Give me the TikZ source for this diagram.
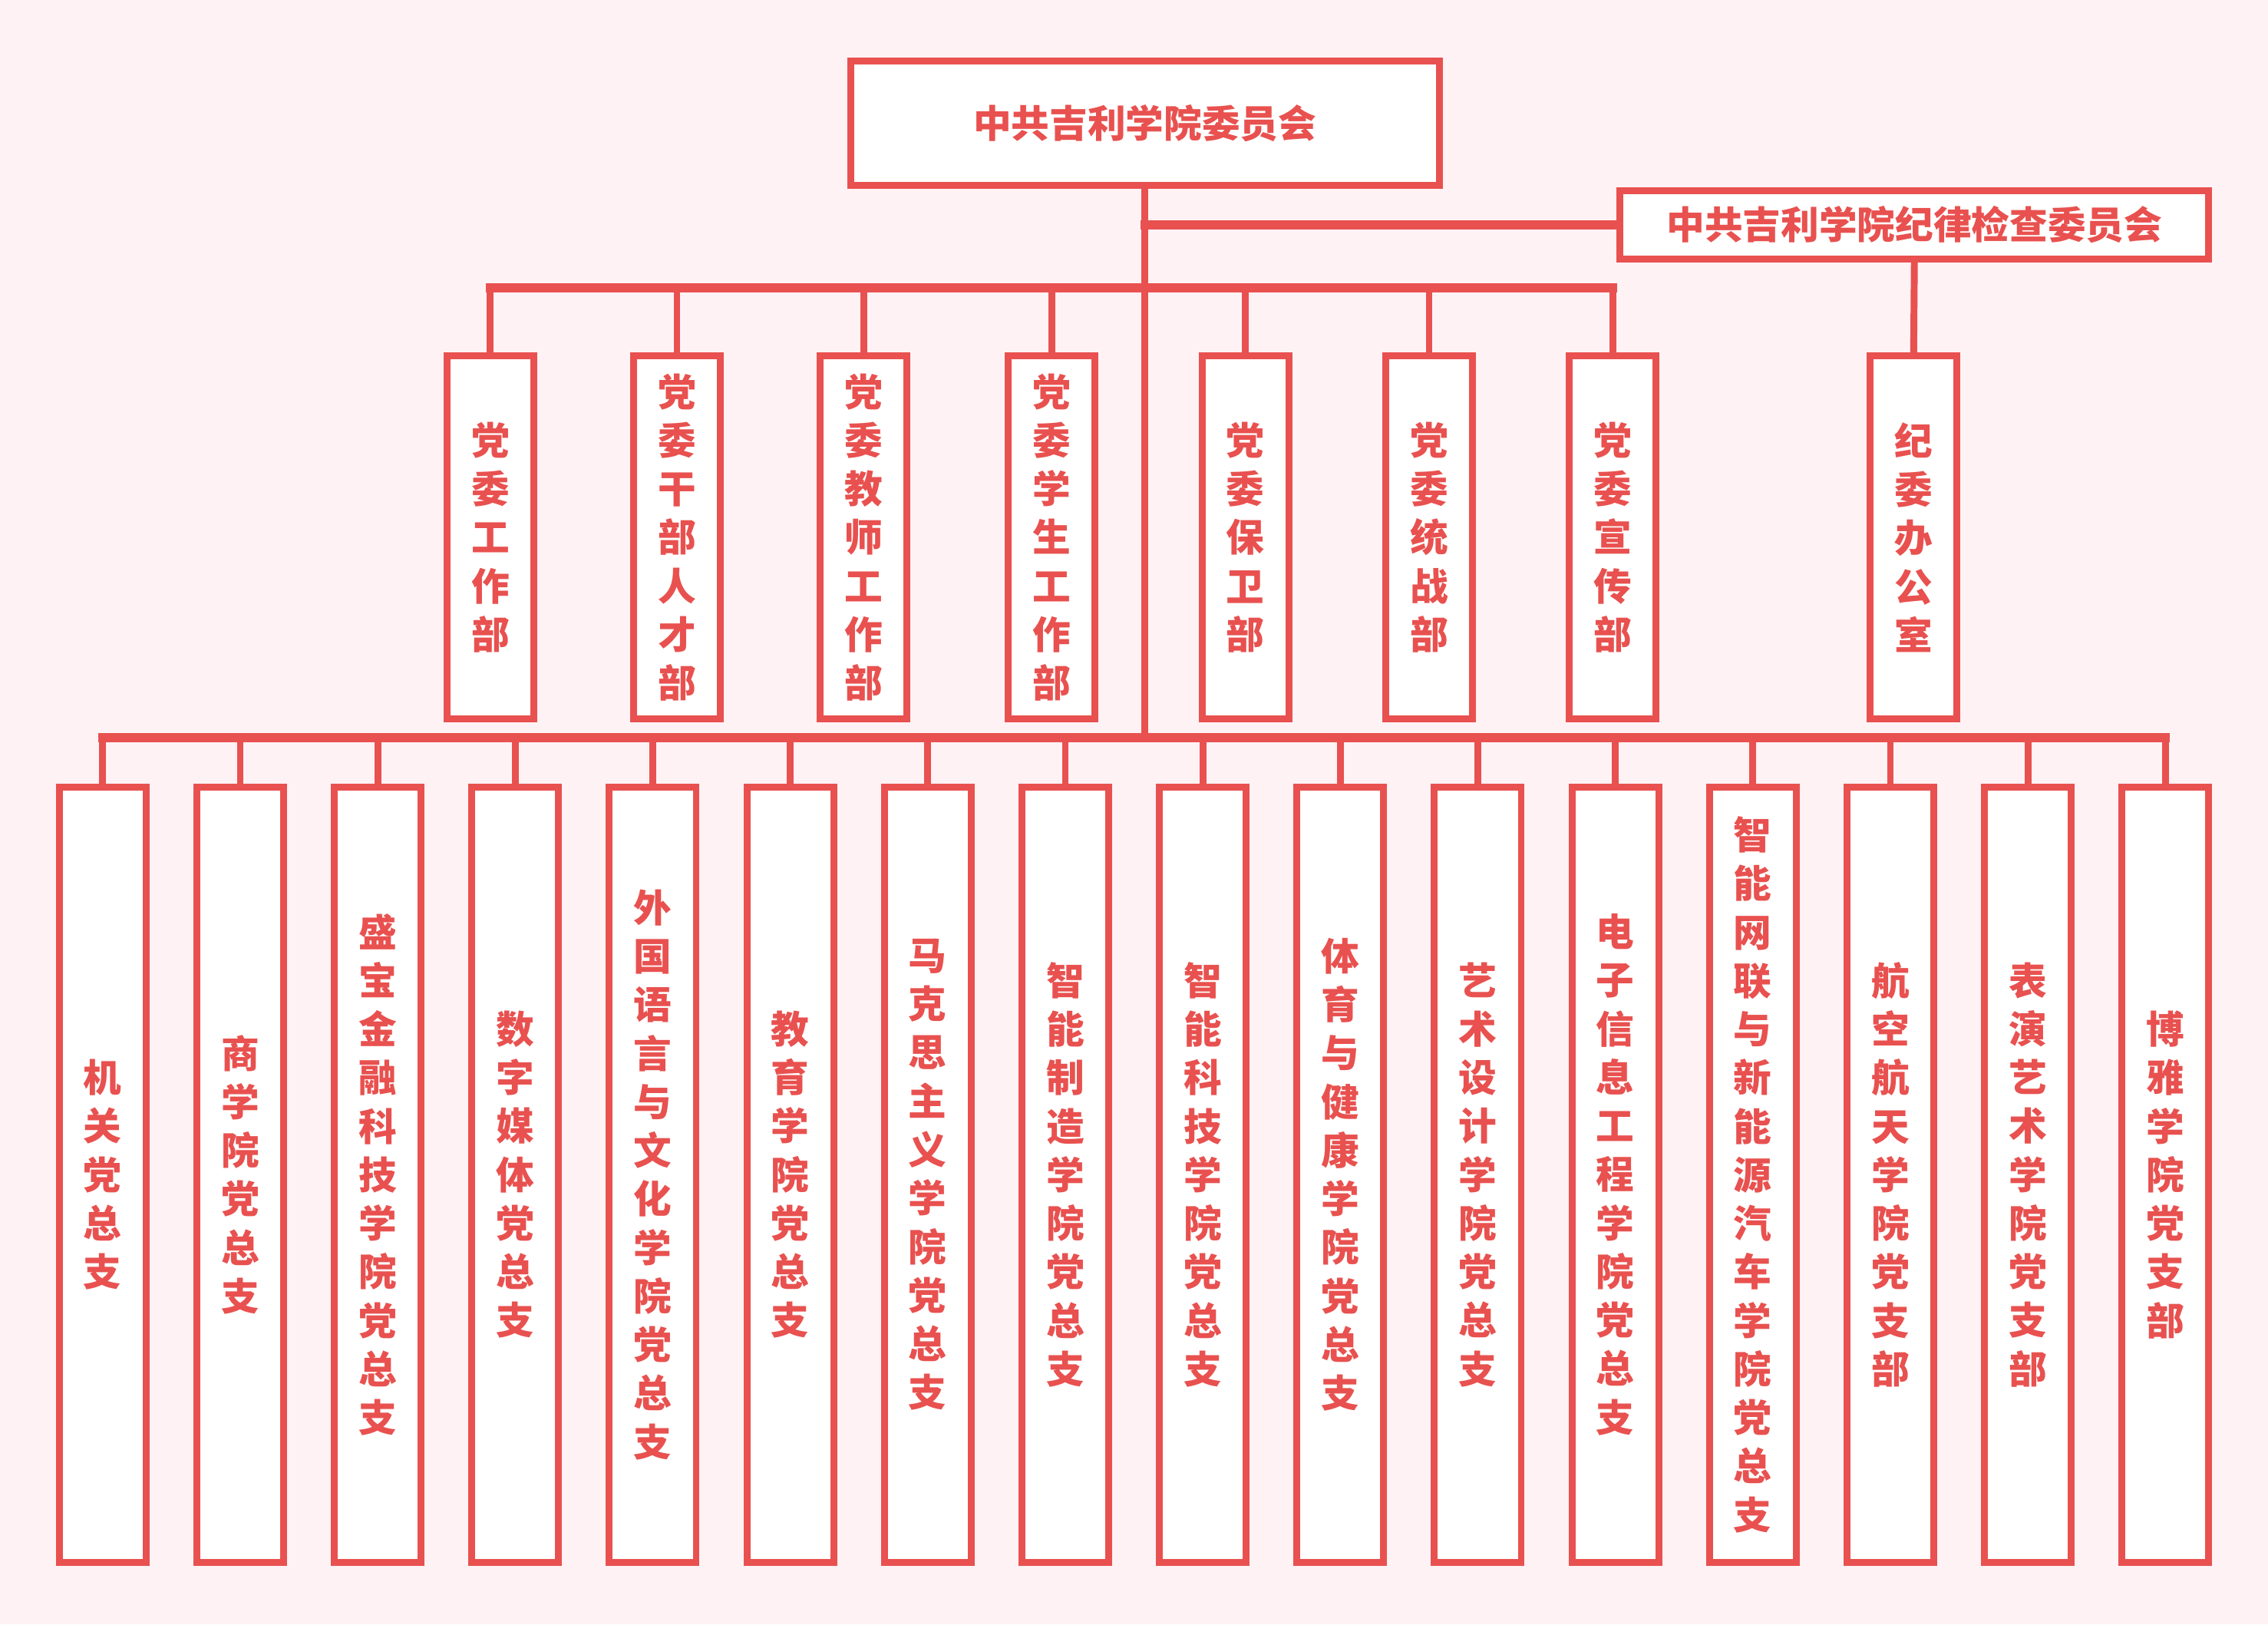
\documentclass[tikz,border=0pt]{standalone}
\usepackage{fontspec}
\setmainfont{Noto Sans CJK SC}
\definecolor{ored}{RGB}{232,81,79}
\definecolor{obg}{RGB}{254,242,245}
\tikzset{
  unit/.style={draw=ored, line width=2.7pt, fill=white, inner sep=0pt, align=center,
    text=ored, font=\bfseries\fontsize{15}{19.1}\selectfont},
  head/.style={unit, minimum width=81.4mm, minimum height=17.2mm},
  jiwei/.style={unit, minimum width=81.4mm, minimum height=9.4mm},
  dept/.style={unit, minimum width=12mm, minimum height=50.2mm},
  branch/.style={unit, minimum width=12mm, minimum height=107.2mm},
  link/.style={draw=ored, line width=2.7pt},
  bus/.style={draw=ored, line width=3.6pt, line cap=rect}
}
\begin{document}
\begin{tikzpicture}[x=0.2mm, y=-0.2mm]
  \fill[obg] (0,0) rectangle (1568,1123);
  \useasboundingbox (0,0) rectangle (1568,1123);
  % top level
  \node[head] (top) at (791.5,85) {中共吉利学院委员会};
  \node[jiwei] (disc) at (1323.5,155.5) {中共吉利学院纪律检查委员会};
  \coordinate (midbus) at (791.5,199);
  \coordinate (lowbus) at (791.5,510);
  % departments
  \foreach \i/\x/\t in {1/339/{党\\委\\工\\作\\部},
      2/468/{党\\委\\干\\部\\人\\才\\部},
      3/597/{党\\委\\教\\师\\工\\作\\部},
      4/727/{党\\委\\学\\生\\工\\作\\部},
      5/861/{党\\委\\保\\卫\\部},
      6/988/{党\\委\\统\\战\\部},
      7/1115/{党\\委\\宣\\传\\部}}
    \node[dept] (d\i) at (\x,371.5) {\t};
  \node[dept] (jw) at (1323,371.5) {纪\\委\\办\\公\\室};
  % branches
  \foreach \i/\t in {0/{机\\关\\党\\总\\支},
      1/{商\\学\\院\\党\\总\\支},
      2/{盛\\宝\\金\\融\\科\\技\\学\\院\\党\\总\\支},
      3/{数\\字\\媒\\体\\党\\总\\支},
      4/{外\\国\\语\\言\\与\\文\\化\\学\\院\\党\\总\\支},
      5/{教\\育\\学\\院\\党\\总\\支},
      6/{马\\克\\思\\主\\义\\学\\院\\党\\总\\支},
      7/{智\\能\\制\\造\\学\\院\\党\\总\\支},
      8/{智\\能\\科\\技\\学\\院\\党\\总\\支},
      9/{体\\育\\与\\健\\康\\学\\院\\党\\总\\支},
      10/{艺\\术\\设\\计\\学\\院\\党\\总\\支},
      11/{电\\子\\信\\息\\工\\程\\学\\院\\党\\总\\支},
      12/{智\\能\\网\\联\\与\\新\\能\\源\\汽\\车\\学\\院\\党\\总\\支},
      13/{航\\空\\航\\天\\学\\院\\党\\支\\部},
      14/{表\\演\\艺\\术\\学\\院\\党\\支\\部},
      15/{博\\雅\\学\\院\\党\\支\\部}}
    \node[branch] (b\i) at (71+95.07*\i,812) {\t};
  % connectors
  \draw[link] (top.south) -- (lowbus);
  \draw[bus] (top.south |- disc.west) -- (disc.west);
  \draw[link] (disc.south) -- (jw.north);
  \draw[bus] (d1.north |- midbus) -- (d7.north |- midbus);
  \foreach \i in {1,...,7}
    \draw[link] (d\i.north) -- (d\i.north |- midbus);
  \draw[bus] (b0.north |- lowbus) -- (b15.north |- lowbus);
  \foreach \i in {0,...,15}
    \draw[link] (b\i.north) -- (b\i.north |- lowbus);
\end{tikzpicture}
\end{document}
